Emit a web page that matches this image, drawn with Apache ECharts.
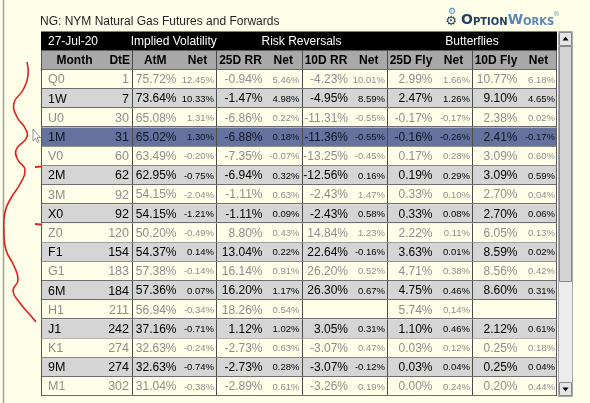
<!DOCTYPE html>
<html><head><meta charset="utf-8">
<script src="https://cdn.jsdelivr.net/npm/echarts@6/dist/echarts.min.js"></script>
<style>html,body{margin:0;padding:0;background:#FEFEE9;}#c{width:590px;height:403px;}</style>
</head><body><div id="c"></div>
<script>
// ---------- data ----------
const titleText = 'NG: NYM Natural Gas Futures and Forwards';
const dateLabel = '27-Jul-20';
const groupHeaders = ['Implied Volatility', 'Risk Reversals', 'Butterflies'];
const colHeaders = ['Month', 'DtE', 'AtM', 'Net', '25D RR', 'Net', '10D RR', 'Net', '25D Fly', 'Net', '10D Fly', 'Net'];
const months = ['Q0','1W','U0','1M','V0','2M','3M','X0','Z0','F1','G1','6M','H1','J1','K1','9M','M1'];
const dte = [1,7,30,31,60,62,92,92,120,154,183,184,211,242,274,274,302];
const atm = [75.72,73.64,65.08,65.02,63.49,62.95,54.15,54.15,50.20,54.37,57.38,57.36,56.94,37.16,32.63,32.63,31.04];
const atmNet = [12.45,10.33,1.31,1.30,-0.20,-0.75,-2.04,-1.21,-0.49,0.14,-0.14,0.07,-0.34,-0.71,-0.24,-0.74,-0.38];
const rr25 = [-0.94,-1.47,-6.86,-6.88,-7.35,-6.94,-1.11,-1.11,8.80,13.04,16.14,16.20,18.26,1.12,-2.73,-2.73,-2.89];
const rr25Net = [5.46,4.98,0.22,0.18,-0.07,0.32,0.63,0.09,0.43,0.22,0.91,1.17,0.54,1.02,0.63,0.28,0.61];
const rr10 = [-4.23,-4.95,-11.31,-11.36,-13.25,-12.56,-2.43,-2.43,14.84,22.64,26.20,26.30,null,3.05,-3.07,-3.07,-3.26];
const rr10Net = [10.01,8.59,-0.55,-0.55,-0.45,0.16,1.47,0.58,1.23,-0.16,0.52,0.67,null,0.31,0.47,-0.12,0.19];
const fly25 = [2.99,2.47,-0.17,-0.16,0.17,0.19,0.33,0.33,2.22,3.63,4.71,4.75,5.74,1.10,0.03,0.03,0.00];
const fly25Net = [1.66,1.26,-0.17,-0.26,0.28,0.29,0.10,0.08,0.11,0.01,0.38,0.46,0.14,0.46,0.12,0.04,0.24];
const fly10 = [10.77,9.10,2.38,2.41,3.09,3.09,2.70,2.70,6.05,8.59,8.56,8.60,null,2.12,0.25,0.25,0.20];
const fly10Net = [6.18,4.65,0.02,-0.17,0.60,0.59,0.04,0.06,0.13,0.02,0.42,0.31,null,0.61,0.18,0.04,0.44];
const highlightMonth = '1M';

// ---------- layout / style ----------
const FONT = '"Liberation Sans", Arial, sans-serif';
const X_MIN = 41, X_MAX = 557;
const COLS = [
  [41,108,'left'],[108,131.5,'right'],[131.5,179,'right'],[179,216,'right'],
  [216,265,'right'],[265,301.5,'right'],[301.5,350.5,'right'],[350.5,387,'right'],
  [387,435,'right'],[435,472,'right'],[472,520,'right'],[520,557,'right']
];
const GROUP_SPANS = [[131.5,216],[216,387],[387,557]];
const SEPS = [131.5,216,301.5,387,472];
const C_CREAM = '#FEFEE9', C_GRAY = '#D5D5D5', C_HI = '#64729D', C_HEAD = '#A8A8A8';

const rowKeys = ['band', 'head'].concat(months);
const fmt = v => (v === null || v === undefined) ? '' : v.toFixed(2) + '%';

function rowKind(r) {
  if (r === 0) return 'band';
  if (r === 1) return 'head';
  const i = r - 2;
  if (months[i] === highlightMonth) return 'hi';
  return (i % 2 === 0) ? 'cream' : 'gray';
}

const rowItems = rowKeys.map((k, r) => [X_MIN, X_MAX, r]);

const cellItems = [], cellMeta = [];
function addCell(x0, x1, r, text, m) { cellItems.push([x0, x1, r]); cellMeta.push(Object.assign({ text }, m)); }

addCell(COLS[0][0], COLS[0][1], 0, dateLabel, { align: 'left', pad: 7, font: '12px ' + FONT, fill: '#fff' });
groupHeaders.forEach((g, j) => addCell(GROUP_SPANS[j][0], GROUP_SPANS[j][1], 0, g, { align: 'center', pad: 0, font: '12px ' + FONT, fill: '#fff' }));
colHeaders.forEach((h, j) => addCell(COLS[j][0], COLS[j][1], 1, h, { align: 'center', pad: 0, font: 'bold 12px ' + FONT, fill: '#000' }));

const valueCols = [atm, atmNet, rr25, rr25Net, rr10, rr10Net, fly25, fly25Net, fly10, fly10Net];
months.forEach((m, i) => {
  const r = i + 2, kind = rowKind(r);
  const fill = kind === 'cream' ? '#8E8E8E' : (kind === 'hi' ? '#0E1426' : '#000');
  addCell(COLS[0][0], COLS[0][1], r, m, { align: 'left', pad: 7, font: '12.5px ' + FONT, fill });
  addCell(COLS[1][0], COLS[1][1], r, String(dte[i]), { align: 'right', pad: 2.5, font: '12.5px ' + FONT, fill });
  valueCols.forEach((arr, j) => {
    const c = COLS[j + 2];
    const isNet = (j % 2 === 1);
    addCell(c[0], c[1], r, fmt(arr[i]), { align: 'right', pad: isNet ? 2 : 2.5, font: (isNet ? '9.5px ' : '12px ') + FONT, fill });
  });
});

function renderRow(params, api) {
  const r = api.value(2);
  const a = api.coord([api.value(0), r]);
  const b = api.coord([api.value(1), r]);
  const h = api.size([0, 1])[1];
  const top = a[1] - h / 2, bot = a[1] + h / 2;
  const kind = rowKind(r);
  const fill = { band: '#000', head: C_HEAD, cream: C_CREAM, gray: C_GRAY, hi: C_HI }[kind];
  const ch = [{ type: 'rect', shape: { x: a[0], y: top, width: b[0] - a[0], height: h }, style: { fill } }];
  if (r >= 1) {
    SEPS.forEach(s => {
      const x = Math.round(api.coord([s, r])[0]) + 0.5;
      ch.push({ type: 'line', shape: { x1: x, y1: top, x2: x, y2: bot }, style: { stroke: '#4A4A4A', lineWidth: 1 } });
    });
    const yb = Math.round(bot) - 0.5;
    ch.push({ type: 'line', shape: { x1: a[0], y1: yb, x2: b[0], y2: yb }, style: { stroke: '#6E6E6E', lineWidth: 1 } });
    ch.push({ type: 'line', shape: { x1: a[0] + 0.5, y1: top, x2: a[0] + 0.5, y2: bot }, style: { stroke: '#555', lineWidth: 1 } });
    ch.push({ type: 'line', shape: { x1: b[0] - 0.5, y1: top, x2: b[0] - 0.5, y2: bot }, style: { stroke: '#555', lineWidth: 1 } });
  }
  return { type: 'group', children: ch };
}

function renderText(params, api) {
  const m = cellMeta[params.dataIndex];
  const r = api.value(2);
  const a = api.coord([api.value(0), r]);
  const b = api.coord([api.value(1), r]);
  const x = m.align === 'left' ? a[0] + m.pad : (m.align === 'right' ? b[0] - m.pad : (a[0] + b[0]) / 2);
  return { type: 'text', style: { x, y: a[1] + 0.5, text: m.text, align: m.align, verticalAlign: 'middle', fill: m.fill, font: m.font } };
}

const chart = echarts.init(document.getElementById('c'), null, { renderer: 'canvas' });
chart.setOption({
  animation: false,
  backgroundColor: C_CREAM,
  title: {
    text: titleText, left: 40, top: 14, padding: 0,
    textStyle: { fontFamily: FONT, fontSize: 12, fontWeight: 'normal', color: '#1E1E1E', lineHeight: 16 }
  },
  grid: { left: X_MIN, top: 31.5, width: X_MAX - X_MIN, height: 364.6, containLabel: false },
  xAxis: { type: 'value', min: X_MIN, max: X_MAX, show: false },
  yAxis: { type: 'category', data: rowKeys, inverse: true, show: false },
  series: [
    { type: 'custom', name: 'rows', data: rowItems, encode: { x: [0, 1], y: 2 }, renderItem: renderRow, clip: false, z: 1, silent: true },
    { type: 'custom', name: 'cells', data: cellItems, encode: { x: [0, 1], y: 2 }, renderItem: renderText, clip: false, z: 2, silent: true }
  ],
  graphic: [
    { type: 'line', shape: { x1: 3.5, y1: 0, x2: 3.5, y2: 403 }, style: { stroke: '#A0A0A0', lineWidth: 1.5 }, silent: true },
    { type: 'text', x: 452, y: 12, style: { text: '\u2699', font: '9px "DejaVu Sans"', fill: '#4A86C5', align: 'center', verticalAlign: 'middle' } },
    { type: 'text', x: 451, y: 22, style: { text: '\u2699', font: '13px "DejaVu Sans"', fill: '#1F3A5F', align: 'center', verticalAlign: 'middle' } },
    { type: 'text', x: 461, y: 20, style: {
        text: '{a|O}{b|PTION}{c|W}{d|ORKS}', verticalAlign: 'middle', align: 'left',
        rich: {
          a: { font: 'bold 14px "DejaVu Sans"', fill: '#243F62', verticalAlign: 'bottom' },
          b: { font: 'bold 10px "DejaVu Sans"', fill: '#243F62', verticalAlign: 'bottom' },
          c: { font: 'bold 14px "DejaVu Sans"', fill: '#5A86B4', verticalAlign: 'bottom' },
          d: { font: 'bold 10px "DejaVu Sans"', fill: '#5A86B4', verticalAlign: 'bottom' }
        } } },
    { type: 'text', x: 553, y: 14, style: { text: '\u00AE', font: '7px "DejaVu Sans"', fill: '#7FA0C0', verticalAlign: 'middle' } },
    { type: 'rect', shape: { x: 558.5, y: 31.5, width: 14, height: 365 }, style: { fill: '#ECECEC', stroke: '#A8A8A8', lineWidth: 1 } },
    { type: 'rect', shape: { x: 559.5, y: 32.5, width: 12, height: 13 }, style: { fill: '#E6E6E6', stroke: '#8A8A8A', lineWidth: 1 } },
    { type: 'polygon', shape: { points: [[565.5, 36.5], [562.5, 40.5], [568.5, 40.5]] }, style: { fill: '#000' } },
    { type: 'rect', shape: { x: 559.5, y: 46.5, width: 12, height: 235 }, style: { fill: '#D4D4D4', stroke: '#8A8A8A', lineWidth: 1 } },
    { type: 'rect', shape: { x: 559.5, y: 382.5, width: 12, height: 13 }, style: { fill: '#E6E6E6', stroke: '#8A8A8A', lineWidth: 1 } },
    { type: 'polygon', shape: { points: [[562.5, 387.5], [568.5, 387.5], [565.5, 391.5]] }, style: { fill: '#000' } },
    { type: 'polyline', shape: { smooth: 0.5, points: [[27,62],[28,76],[23,90],[14,103],[17,117],[25,128],[27,137],[16,150],[18,160],[25,170],[20,184],[11,198],[5,212],[4,232],[6,250],[14,266],[18,280],[13,291],[20,303],[31,316],[36,322]] }, style: { stroke: '#E0201C', lineWidth: 1.6, fill: null } },
    { type: 'polyline', shape: { smooth: 0.3, points: [[35,167],[50,166],[68,165]] }, style: { stroke: '#E0201C', lineWidth: 1.8, fill: null } },
    { type: 'polyline', shape: { smooth: 0.3, points: [[35,224],[60,226],[90,227]] }, style: { stroke: '#E0201C', lineWidth: 1.8, fill: null } },
    { type: 'polygon', shape: { points: [[33,129],[33,141],[35.5,138.5],[37.5,142.5],[39,141.5],[37,137.5],[40.5,137.5]] }, style: { fill: '#fff', stroke: '#777', lineWidth: 0.8 } }
  ]
});
</script>
</body></html>
